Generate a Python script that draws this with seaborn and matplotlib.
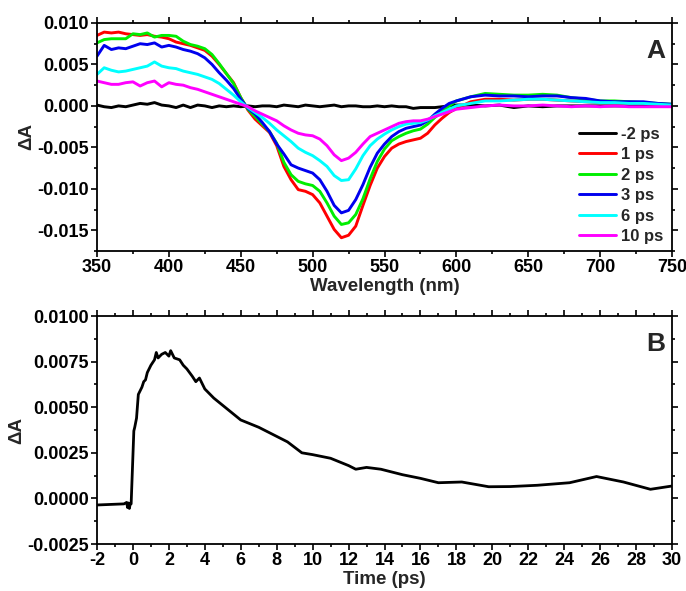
import numpy as np
import pandas as pd
import seaborn as sns
import matplotlib
matplotlib.use("Agg")
import matplotlib.pyplot as plt
from matplotlib.ticker import MultipleLocator, FormatStrFormatter

# Panel A: transient spectra (values in mOD, x in nm)
wavelength = [350, 355, 360, 365, 370, 375, 380, 385, 390, 395, 400, 405, 410, 415, 420, 425,
              430, 435, 440, 445, 450, 455, 460, 465, 470, 475, 480, 485, 490, 495, 500, 505,
              510, 515, 520, 525, 530, 535, 540, 545, 550, 555, 560, 565, 570, 575, 580, 585,
              590, 595, 600, 610, 620, 630, 640, 650, 660, 670, 680, 690, 700, 710, 720, 730,
              740, 750]

dA_m2ps = [0.1, -0.1, -0.2, 0.0, -0.1, 0.1, 0.3, 0.2, 0.4, 0.1, 0.0, -0.2, 0.1, -0.2, 0.1, 0.0,
           -0.2, 0.0, -0.1, 0.0, -0.1, 0.0, -0.1, 0.0, 0.0, -0.1, 0.1, 0.0, -0.1, 0.1, 0.0, -0.1,
           0.0, 0.1, -0.1, 0.0, 0.0, -0.1, -0.1, 0.0, -0.1, 0.0, -0.1, -0.1, -0.3, -0.2, -0.2, -0.2,
           -0.1, 0.0, 0.1, 0.1, 0.0, 0.1, -0.2, 0.0, -0.1, 0.0, 0.0, 0.0, 0.0, 0.0, 0.0, 0.1,
           0.0, 0.1]
dA_1ps = [8.5, 8.9, 8.8, 8.9, 8.7, 8.6, 8.5, 8.6, 8.4, 8.3, 8.1, 7.7, 7.5, 7.3, 7.0, 6.7,
          6.0, 5.0, 3.9, 2.8, 1.0, -0.5, -1.6, -2.4, -3.2, -4.8, -7.3, -8.9, -10.1, -10.3, -10.7, -11.7,
          -13.3, -14.9, -15.9, -15.6, -14.5, -12.0, -9.6, -7.5, -6.1, -5.1, -4.6, -4.3, -4.1, -3.9, -3.3, -2.3,
          -1.5, -0.8, -0.3, 0.5, 0.8, 0.8, 0.7, 0.8, 0.8, 0.7, 0.6, 0.5, 0.4, 0.4, 0.3, 0.3,
          0.2, 0.1]
dA_2ps = [7.6, 8.0, 8.1, 8.1, 8.1, 8.7, 8.6, 8.8, 8.3, 8.5, 8.5, 8.4, 7.8, 7.4, 7.2, 6.9,
          6.2, 5.1, 3.9, 2.7, 1.0, -0.4, -1.3, -2.2, -3.1, -4.5, -6.8, -8.3, -9.1, -9.4, -9.6, -10.3,
          -11.7, -13.3, -14.3, -14.1, -13.1, -11.2, -8.8, -6.7, -5.2, -4.2, -3.7, -3.3, -3.0, -2.8, -2.2, -1.4,
          -0.7, 0.0, 0.6, 1.1, 1.5, 1.4, 1.3, 1.3, 1.4, 1.3, 1.0, 0.8, 0.6, 0.6, 0.5, 0.4,
          0.3, 0.2]
dA_3ps = [6.0, 7.3, 6.8, 7.0, 6.9, 7.2, 7.5, 7.4, 7.6, 7.1, 7.3, 7.1, 6.8, 6.6, 6.3, 5.8,
          5.0, 4.0, 3.1, 2.1, 0.8, -0.3, -1.0, -2.0, -3.1, -4.6, -5.8, -7.1, -7.5, -7.8, -8.1, -8.9,
          -10.3, -12.0, -12.9, -12.6, -11.3, -9.5, -7.4, -5.7, -4.6, -3.7, -3.1, -2.7, -2.5, -2.3, -1.8, -1.0,
          -0.3, 0.3, 0.6, 1.1, 1.3, 1.2, 1.2, 1.1, 1.2, 1.2, 1.0, 0.9, 0.6, 0.5, 0.5, 0.5,
          0.3, 0.2]
dA_6ps = [3.8, 4.6, 4.3, 4.1, 4.2, 4.4, 4.6, 4.8, 5.3, 4.8, 4.6, 4.5, 4.2, 4.0, 3.8, 3.5,
          3.2, 2.7, 2.0, 1.3, 0.5, -0.2, -0.8, -1.4, -2.1, -2.9, -3.6, -4.3, -5.1, -5.6, -6.0, -6.6,
          -7.3, -8.4, -9.0, -8.9, -7.6, -6.0, -4.8, -4.0, -3.4, -2.9, -2.5, -2.2, -2.1, -2.0, -1.7, -1.2,
          -0.8, -0.4, 0.0, 0.3, 0.6, 0.6, 0.7, 0.8, 0.8, 0.7, 0.6, 0.5, 0.4, 0.4, 0.3, 0.3,
          0.2, 0.1]
dA_10ps = [3.0, 2.8, 2.6, 2.6, 2.8, 2.9, 2.4, 2.8, 3.0, 2.3, 2.8, 2.6, 2.5, 2.2, 2.0, 1.7,
           1.4, 1.1, 0.8, 0.5, 0.2, -0.1, -0.6, -1.0, -1.4, -1.8, -2.4, -2.9, -3.3, -3.5, -3.6, -4.0,
           -4.8, -5.9, -6.6, -6.3, -5.6, -4.6, -3.7, -3.3, -2.9, -2.5, -2.1, -1.9, -1.8, -1.8, -1.6, -1.3,
           -1.0, -0.7, -0.4, -0.2, 0.0, 0.1, 0.0, 0.0, 0.1, 0.0, -0.1, 0.0, -0.1, 0.0, -0.1, -0.1,
           -0.1, -0.1]

delays = ["-2 ps", "1 ps", "2 ps", "3 ps", "6 ps", "10 ps"]
colors = ["black", "#ff0000", "#00ee00", "#0000ee", "#00ffff", "#ff00ff"]

# Panel B: kinetic trace (values in mOD, x in ps)
time_ps = [-2.0, -0.5, -0.35, -0.3, -0.25, -0.2, -0.15, -0.1, 0.05, 0.1, 0.2, 0.3, 0.4, 0.5,
           0.6, 0.7, 0.8, 1.0, 1.2, 1.3, 1.4, 1.6, 1.8, 2.0, 2.1, 2.3, 2.6, 2.8, 3.0, 3.3,
           3.5, 3.7, 4.0, 4.5, 5.0, 5.5, 6.0, 7.0, 8.0, 8.6, 9.4, 10.0, 11.0, 12.0, 12.4,
           13.0, 13.8, 15.0, 16.0, 17.0, 18.3, 19.8, 21.0, 22.5, 24.3, 25.8, 27.3, 28.8, 30.0]
kinetic = [-0.36, -0.30, -0.22, -0.50, -0.25, -0.55, -0.30, -0.30, 3.7, 3.9, 4.4, 5.7, 5.9, 6.1,
           6.4, 6.5, 6.9, 7.3, 7.6, 8.0, 7.7, 7.9, 8.0, 7.8, 8.1, 7.7, 7.6, 7.3, 7.1, 6.7,
           6.4, 6.6, 6.0, 5.5, 5.1, 4.7, 4.3, 3.9, 3.4, 3.1, 2.5, 2.4, 2.2, 1.8, 1.6,
           1.7, 1.6, 1.3, 1.1, 0.86, 0.9, 0.64, 0.65, 0.72, 0.86, 1.2, 0.9, 0.5, 0.68]

sns.set_style("ticks")
plt.rcParams["font.family"] = ["Liberation Sans", "DejaVu Sans"]
plt.rcParams["font.weight"] = "bold"
plt.rcParams["axes.labelweight"] = "bold"
plt.rcParams["axes.unicode_minus"] = False

series = [dA_m2ps, dA_1ps, dA_2ps, dA_3ps, dA_6ps, dA_10ps]
spectra = pd.concat([
    pd.DataFrame({"wl": wavelength, "dA": np.array(s) / 1000, "delay": d})
    for s, d in zip(series, delays)
])
trace = pd.DataFrame({"t": time_ps, "dA": np.array(kinetic) / 1000})

fig = plt.figure(figsize=(6.86, 5.91), dpi=100)
ax1 = fig.add_axes([0.1414, 0.5753, 0.8382, 0.3858])
ax2 = fig.add_axes([0.1414, 0.0795, 0.8382, 0.3858])

sns.lineplot(data=spectra, x="wl", y="dA", hue="delay", hue_order=delays,
             palette=colors, linewidth=2.1, sort=False, ax=ax1)
sns.lineplot(data=trace, x="t", y="dA", color="black", linewidth=2.0, sort=False, ax=ax2)

ax1.set_xlim(350, 750)
ax1.set_ylim(-0.0175, 0.010)
ax1.xaxis.set_major_locator(MultipleLocator(50))
ax1.xaxis.set_minor_locator(MultipleLocator(25))
ax1.yaxis.set_major_locator(MultipleLocator(0.005))
ax1.yaxis.set_minor_locator(MultipleLocator(0.0025))
ax1.yaxis.set_major_formatter(FormatStrFormatter("%.3f"))
ax1.set_xlabel("Wavelength (nm)", fontsize=13.5, labelpad=1)
ax1.set_ylabel("ΔA", fontsize=13.5, labelpad=1)
ax1.legend(frameon=False, fontsize=12, handlelength=2.2, handletextpad=0.3,
           labelspacing=0.33, loc="upper left", bbox_to_anchor=(0.838, 0.545),
           borderaxespad=0, borderpad=0)
ax1.text(0.988, 0.93, "A", transform=ax1.transAxes, ha="right", va="top",
         fontsize=19, fontweight="bold")

ax2.set_xlim(-2, 30)
ax2.set_ylim(-0.0025, 0.0100)
ax2.xaxis.set_major_locator(MultipleLocator(2))
ax2.xaxis.set_minor_locator(MultipleLocator(1))
ax2.yaxis.set_major_locator(MultipleLocator(0.0025))
ax2.yaxis.set_minor_locator(MultipleLocator(0.00125))
ax2.yaxis.set_major_formatter(FormatStrFormatter("%.4f"))
ax2.set_xlabel("Time (ps)", fontsize=13.5, labelpad=1)
ax2.set_ylabel("ΔA", fontsize=13.5, labelpad=1)
ax2.text(0.988, 0.93, "B", transform=ax2.transAxes, ha="right", va="top",
         fontsize=19, fontweight="bold")

for ax in (ax1, ax2):
    for sp in ax.spines.values():
        sp.set_visible(True)
        sp.set_linewidth(1.3)
        sp.set_color("black")
    ax.tick_params(which="both", direction="out", top=True, right=True,
                   labeltop=False, labelright=False, width=1.2, colors="black")
    ax.tick_params(which="major", length=4, labelsize=13, pad=2)
    ax.tick_params(which="minor", length=2.5)
    for lbl in ax.get_xticklabels() + ax.get_yticklabels():
        lbl.set_fontweight("bold")

fig.savefig("out.png", dpi=100)
